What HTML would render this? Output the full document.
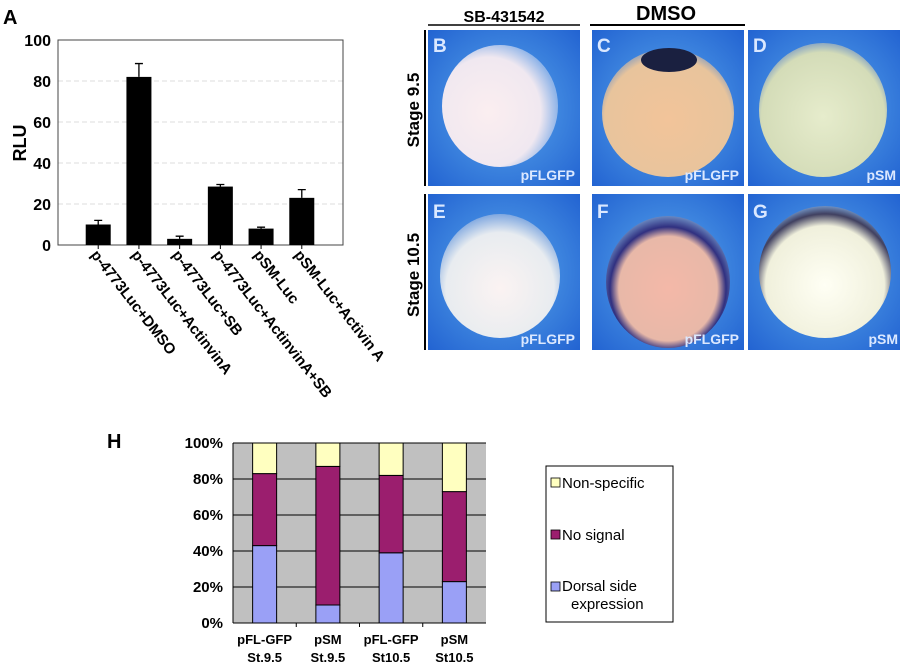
<!DOCTYPE html>
<html><head><meta charset="utf-8"><style>
body{margin:0;background:#fff;width:900px;height:667px;overflow:hidden;font-family:"Liberation Sans",Arial,sans-serif}
svg text{font-family:"Liberation Sans",Arial,sans-serif;font-weight:bold}
</style></head><body>
<svg id="fig" width="900" height="667" viewBox="0 0 900 667">
<defs>
<radialGradient id="bg" cx="0.5" cy="0.5" r="0.75"><stop offset="0" stop-color="#5aa8ec"/><stop offset="1" stop-color="#1f5fd0"/></radialGradient>
<radialGradient id="eB" cx="0.4" cy="0.55" r="0.6"><stop offset="0" stop-color="#fbeef0"/><stop offset="0.75" stop-color="#f0e8f0"/><stop offset="1" stop-color="#8fb4e8"/></radialGradient>
<radialGradient id="eC" cx="0.5" cy="0.55" r="0.6"><stop offset="0" stop-color="#f2c49a"/><stop offset="0.8" stop-color="#e8c49c"/><stop offset="1" stop-color="#6a90c8"/></radialGradient>
<radialGradient id="eD" cx="0.5" cy="0.55" r="0.6"><stop offset="0" stop-color="#e6eccc"/><stop offset="0.8" stop-color="#d4dcb8"/><stop offset="1" stop-color="#5a84c8"/></radialGradient>
<radialGradient id="eE" cx="0.5" cy="0.6" r="0.6"><stop offset="0" stop-color="#fbf3f2"/><stop offset="0.75" stop-color="#e8ecf0"/><stop offset="1" stop-color="#80a8e0"/></radialGradient>
<radialGradient id="eF" cx="0.5" cy="0.55" r="0.55"><stop offset="0" stop-color="#f4b8a8"/><stop offset="0.72" stop-color="#e8b8a8"/><stop offset="0.85" stop-color="#303080"/><stop offset="1" stop-color="#6a88c0"/></radialGradient>
<radialGradient id="eG" cx="0.5" cy="0.6" r="0.6"><stop offset="0" stop-color="#fffff4"/><stop offset="0.75" stop-color="#f0f0dc"/><stop offset="0.9" stop-color="#404060"/><stop offset="1" stop-color="#7090c0"/></radialGradient>
</defs>

<text x="3" y="24" font-size="20">A</text>
<g id="chartA"></g>

<g>
<text x="504" y="22" font-size="16" text-anchor="middle">SB-431542</text>
<line x1="428" y1="25" x2="580" y2="25" stroke="#000" stroke-width="1.5"/>
<text x="666" y="20" font-size="20" text-anchor="middle">DMSO</text>
<line x1="590" y1="25" x2="745" y2="25" stroke="#000" stroke-width="2"/>
<line x1="425" y1="30" x2="425" y2="186" stroke="#000" stroke-width="2"/>
<line x1="425" y1="194" x2="425" y2="350" stroke="#000" stroke-width="2"/>
<text transform="translate(419,110) rotate(-90)" font-size="17" text-anchor="middle">Stage 9.5</text>
<text transform="translate(419,275) rotate(-90)" font-size="17" text-anchor="middle">Stage 10.5</text>

<g><rect x="428" y="30" width="152" height="156" fill="url(#bg)"/><ellipse cx="500" cy="106" rx="58" ry="61" fill="url(#eB)"/><text x="433" y="52" font-size="19" fill="#dbe8ff">B</text><text x="575" y="180" font-size="14" fill="#dbe8ff" text-anchor="end">pFLGFP</text></g>
<g><rect x="592" y="30" width="152" height="156" fill="url(#bg)"/><ellipse cx="668" cy="113" rx="66" ry="64" fill="url(#eC)"/><ellipse cx="669" cy="60" rx="28" ry="12" fill="#1a2040"/><text x="597" y="52" font-size="19" fill="#dbe8ff">C</text><text x="739" y="180" font-size="14" fill="#dbe8ff" text-anchor="end">pFLGFP</text></g>
<g><rect x="748" y="30" width="152" height="156" fill="url(#bg)"/><ellipse cx="823" cy="110" rx="64" ry="67" fill="url(#eD)"/><text x="753" y="52" font-size="19" fill="#dbe8ff">D</text><text x="896" y="180" font-size="14" fill="#dbe8ff" text-anchor="end">pSM</text></g>
<g><rect x="428" y="194" width="152" height="156" fill="url(#bg)"/><ellipse cx="500" cy="276" rx="60" ry="62" fill="url(#eE)"/><text x="433" y="218" font-size="19" fill="#dbe8ff">E</text><text x="575" y="344" font-size="14" fill="#dbe8ff" text-anchor="end">pFLGFP</text></g>
<g><rect x="592" y="194" width="152" height="156" fill="url(#bg)"/><ellipse cx="668" cy="282" rx="62" ry="66" fill="url(#eF)"/><text x="597" y="218" font-size="19" fill="#dbe8ff">F</text><text x="739" y="344" font-size="14" fill="#dbe8ff" text-anchor="end">pFLGFP</text></g>
<g><rect x="748" y="194" width="152" height="156" fill="url(#bg)"/><ellipse cx="825" cy="272" rx="66" ry="66" fill="url(#eG)"/><text x="753" y="218" font-size="19" fill="#dbe8ff">G</text><text x="898" y="344" font-size="14" fill="#dbe8ff" text-anchor="end">pSM</text></g>
</g>

<text x="107" y="448" font-size="20">H</text>
<g id="chartH"></g>
<g>
<rect x="546" y="466" width="127" height="156" fill="#fff" stroke="#000" stroke-width="1"/>
<g><rect x="551" y="478" width="9" height="9" fill="#ffffc0" stroke="#000" stroke-width="0.8"/><text x="562" y="488" font-size="15" style="font-weight:normal">Non-specific</text></g>
<g><rect x="551" y="530" width="9" height="9" fill="#9b1e6e" stroke="#000" stroke-width="0.8"/><text x="562" y="540" font-size="15" style="font-weight:normal">No signal</text></g>
<g><rect x="551" y="582" width="9" height="9" fill="#9aa0f6" stroke="#000" stroke-width="0.8"/><text x="562" y="591" font-size="15" style="font-weight:normal">Dorsal side</text><text x="571" y="609" font-size="15" style="font-weight:normal">expression</text></g>
</g>
</svg>
<script>
const NS="http://www.w3.org/2000/svg";
const aCategories=["p-4773Luc+DMSO","p-4773Luc+ActinvinA","p-4773Luc+SB","p-4773Luc+ActinvinA+SB","pSM-Luc","pSM-Luc+Activin A"];
const aValues=[10,82,3,28.5,8,23];
const aErrors=[2,6.5,1.3,1,0.7,4];
const aTicks=[0,20,40,60,80,100];
const hCategories=[["pFL-GFP","St.9.5"],["pSM","St.9.5"],["pFL-GFP","St10.5"],["pSM","St10.5"]];
const hDorsal=[43,10,39,23];
const hNoSignal=[40,77,43,50];
const hNonSpecific=[17,13,18,27];
const hTicks=[0,20,40,60,80,100];

function mk(tag,attrs,parent){const e=document.createElementNS(NS,tag);for(const k in attrs)e.setAttribute(k,attrs[k]);parent.appendChild(e);return e;}

(function(){
 const g=document.getElementById('chartA');
 const L=58,R=343,T=40,B=245;
 const y=v=>B-(v/100)*(B-T);
 const step=(R-L)/7;
 const x=i=>L+step*(i+1)-0.5;
 aTicks.forEach(t=>{
  if(t>0&&t<100){const gl=mk('line',{x1:L,x2:R,y1:y(t),y2:y(t),stroke:'#ddd','stroke-dasharray':'5,3'},g);
   
   }
  const tx=mk('text',{x:L-7,y:y(t)+6,'font-size':16,'text-anchor':'end'},g);tx.textContent=t;
  
  
 });
 mk('rect',{x:L,y:T,width:R-L,height:B-T,fill:'none',stroke:'#444','stroke-width':1},g);
 const yt=mk('text',{transform:`translate(26,143) rotate(-90)`,'font-size':18,'text-anchor':'middle'},g);yt.textContent='RLU';
 
 
 aValues.forEach((v,i)=>{
  const cx=x(i);
  const b=mk('rect',{x:cx-12.5,y:y(v),width:25,height:B-y(v),fill:'#000'},g);
  
  
  const e=aErrors[i];
  const eb=mk('path',{d:`M${cx} ${y(v)} V${y(v+e)} M${cx-4} ${y(v+e)} H${cx+4}`,stroke:'#000','stroke-width':1.3,fill:'none'},g);
  
  
  mk('line',{x1:cx,x2:cx,y1:B,y2:B+4,stroke:'#000'},g);
  const lt=mk('text',{transform:`translate(${cx-8},${B+10}) rotate(52)`,'font-size':15},g);lt.textContent=aCategories[i];
  
  
 });
})();

(function(){
 const g=document.getElementById('chartH');
 const L=233,R=486,T=443,B=623;
 const y=v=>B-(v/100)*(B-T);
 const step=(R-L)/4;
 const x=i=>L+step*(i+0.5);
 mk('rect',{x:L,y:T,width:R-L,height:B-T,fill:'#c0c0c0'},g);
 hTicks.forEach(t=>{
  const gl=mk('line',{x1:L,x2:R,y1:y(t),y2:y(t),stroke:'#000','stroke-width':1},g);
  
  
  const tx=mk('text',{x:L-10,y:y(t)+5,'font-size':15,'text-anchor':'end'},g);tx.textContent=t+'%';
  
  
 });
 mk('line',{x1:L,x2:L,y1:T,y2:B,stroke:'#000'},g);
 for(let i=1;i<4;i++)mk('line',{x1:L+step*i,x2:L+step*i,y1:B,y2:B+4,stroke:'#000'},g);
 hCategories.forEach((c,i)=>{
  const cx=x(i),w=24;
  let base=0;
  [[hDorsal,'#9aa0f6','dorsal'],[hNoSignal,'#9b1e6e','no-signal'],[hNonSpecific,'#ffffc0','nonspecific']].forEach(([arr,col,nm])=>{
   const v=arr[i];
   const r=mk('rect',{x:cx-w/2,y:y(base+v),width:w,height:y(base)-y(base+v),fill:col,stroke:'#000','stroke-width':1},g);
   
   
   base+=v;
  });
  c.forEach((s,k)=>{
   const t=mk('text',{x:cx,y:644+k*18,'font-size':13,'text-anchor':'middle'},g);t.textContent=s;
   
   
  });
 });
})();
</script>
</body></html>
